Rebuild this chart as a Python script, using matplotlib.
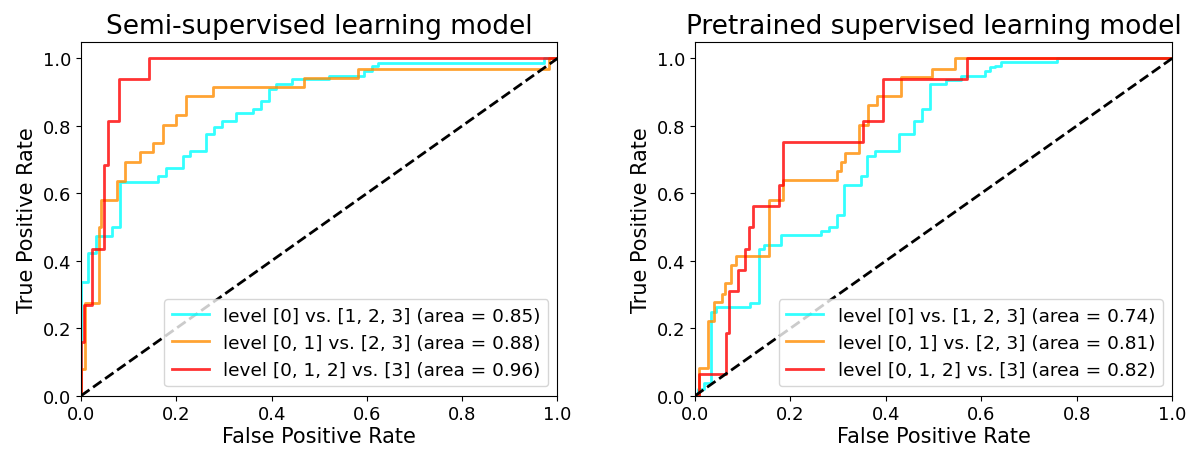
import matplotlib
matplotlib.use("Agg")
import matplotlib.pyplot as plt

titles = ["Semi-supervised learning model", "Pretrained supervised learning model"]
labels = ["level [0] vs. [1, 2, 3]", "level [0, 1] vs. [2, 3]", "level [0, 1, 2] vs. [3]"]
colors = ["aqua", "darkorange", "red"]

# Semi-supervised model ROC curves (step corners: at fpr[i] curve rises to tpr[i])
semi_auc = [0.85, 0.88, 0.96]
semi_c0_fpr = [0, 0, 0.014, 0.032, 0.065, 0.081, 0.161, 0.179, 0.214, 0.229, 0.262, 0.279, 0.295,
               0.326, 0.36, 0.377, 0.395, 0.41, 0.442, 0.52, 0.593, 0.61, 0.624, 0.972, 1.0]
semi_c0_tpr = [0, 0.337, 0.424, 0.473, 0.5, 0.635, 0.65, 0.675, 0.711, 0.726, 0.775, 0.796, 0.813,
               0.837, 0.849, 0.875, 0.908, 0.923, 0.938, 0.947, 0.963, 0.977, 0.987, 1.0, 1.0]
semi_c1_fpr = [0, 0, 0.009, 0.037, 0.042, 0.076, 0.093, 0.123, 0.151, 0.171, 0.199, 0.22, 0.276,
               0.467, 0.582, 0.982, 1.0]
semi_c1_tpr = [0, 0.079, 0.276, 0.5, 0.581, 0.638, 0.693, 0.722, 0.749, 0.803, 0.833, 0.89, 0.916,
               0.941, 0.97, 1.0, 1.0]
semi_c2_fpr = [0, 0, 0.007, 0.023, 0.049, 0.056, 0.079, 0.142, 1.0]
semi_c2_tpr = [0, 0.16, 0.27, 0.435, 0.685, 0.813, 0.938, 1.0, 1.0]

# Pretrained supervised model ROC curves
pre_auc = [0.74, 0.81, 0.82]
pre_c0_fpr = [0, 0.007, 0.018, 0.033, 0.044, 0.116, 0.133, 0.145, 0.18, 0.263, 0.281, 0.297, 0.312,
              0.347, 0.36, 0.378, 0.428, 0.458, 0.476, 0.493, 0.526, 0.558, 0.608, 0.618, 0.628,
              0.641, 0.758, 1.0]
pre_c0_tpr = [0, 0.02, 0.039, 0.249, 0.263, 0.276, 0.436, 0.448, 0.476, 0.488, 0.5, 0.537, 0.626,
              0.652, 0.711, 0.724, 0.776, 0.813, 0.849, 0.923, 0.935, 0.949, 0.964, 0.974, 0.978,
              0.988, 1.0, 1.0]
pre_c1_fpr = [0, 0.009, 0.028, 0.039, 0.056, 0.063, 0.076, 0.086, 0.154, 0.185, 0.297, 0.305, 0.314,
              0.344, 0.363, 0.382, 0.432, 0.496, 0.545, 1.0]
pre_c1_tpr = [0, 0.081, 0.222, 0.279, 0.303, 0.333, 0.389, 0.414, 0.581, 0.64, 0.665, 0.692, 0.721,
              0.803, 0.862, 0.89, 0.944, 0.97, 1.0, 1.0]
pre_c2_fpr = [0, 0.009, 0.065, 0.072, 0.091, 0.105, 0.114, 0.121, 0.175, 0.185, 0.353, 0.393, 0.571, 1.0]
pre_c2_tpr = [0, 0.064, 0.187, 0.31, 0.374, 0.436, 0.5, 0.563, 0.626, 0.751, 0.813, 0.938, 1.0, 1.0]

ticks = [0.0, 0.2, 0.4, 0.6, 0.8, 1.0]

panels = [
    (titles[0], [(semi_c0_fpr, semi_c0_tpr), (semi_c1_fpr, semi_c1_tpr), (semi_c2_fpr, semi_c2_tpr)], semi_auc),
    (titles[1], [(pre_c0_fpr, pre_c0_tpr), (pre_c1_fpr, pre_c1_tpr), (pre_c2_fpr, pre_c2_tpr)], pre_auc),
]

fig = plt.figure(figsize=(11.92, 4.52), dpi=100)
ax_pos = [[0.068, 0.1223, 0.3997, 0.7836], [0.5831, 0.1223, 0.4002, 0.7836]]

for pos, (title, curves, aucs) in zip(ax_pos, panels):
    ax = fig.add_axes(pos)
    for (fpr, tpr), col, lab, a in zip(curves, colors, labels, aucs):
        ax.step(fpr, tpr, where="post", color=col, lw=2, alpha=0.8,
                label=f"{lab} (area = {a:.2f})")
    ax.plot([0, 1], [0, 1], color="black", lw=2, linestyle="--")
    ax.set_xlim([0.0, 1.0])
    ax.set_ylim([0.0, 1.05])
    ax.set_xticks(ticks)
    ax.set_yticks(ticks)
    ax.tick_params(labelsize=13)
    ax.set_xlabel("False Positive Rate", fontsize=15, labelpad=2)
    ax.set_ylabel("True Positive Rate", fontsize=15, labelpad=4)
    ax.set_title(title, fontsize=19, pad=6)
    ax.legend(loc="lower right", fontsize=13.3)

fig.savefig("out.png", dpi=100)
